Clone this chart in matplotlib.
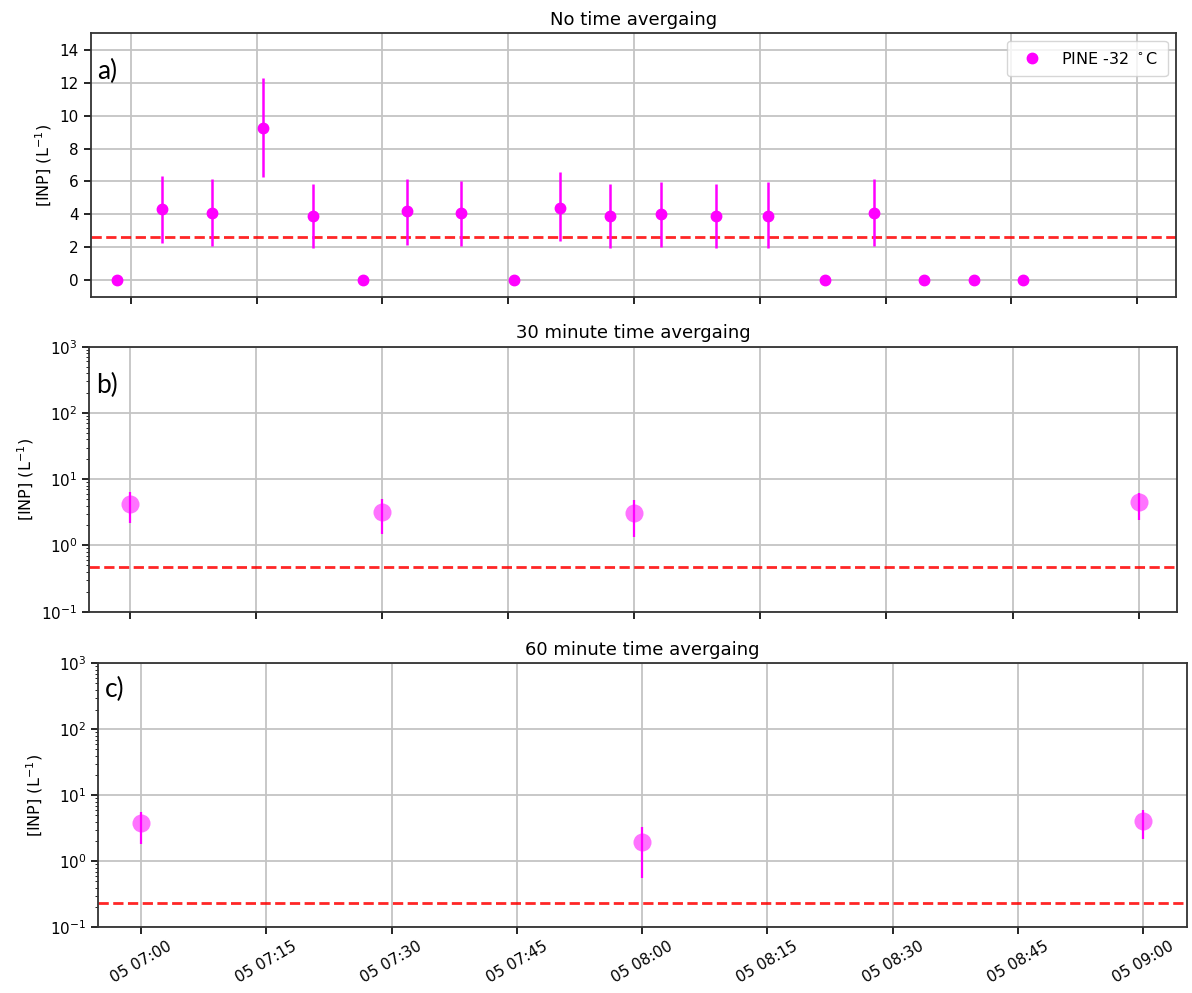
import matplotlib
matplotlib.use("Agg")
import matplotlib.pyplot as plt
import matplotlib.dates as mdates
import pandas as pd

# PINE -32 C, 6 minute runs
t_raw = ["06:58:20", "07:03:43", "07:09:40", "07:15:45", "07:21:44", "07:27:42",
         "07:32:53", "07:39:19", "07:45:43", "07:51:10", "07:57:08", "08:03:10",
         "08:09:44", "08:15:56", "08:22:46", "08:28:34", "08:34:32", "08:40:34",
         "08:46:22"]
inp_raw = [0, 4.3, 4.1, 9.26, 3.9, 0, 4.2, 4.1, 0, 4.4, 3.9, 4.02, 3.92, 3.92,
           0, 4.1, 0, 0, 0]
lo_raw = [0, 2.26, 2.06, 6.26, 1.98, 0, 2.16, 2.1, 0, 2.36, 1.96, 2.0, 1.96,
          1.96, 0, 2.1, 0, 0, 0]
hi_raw = [0, 6.34, 6.14, 12.26, 5.86, 0, 6.16, 6.04, 0, 6.56, 5.84, 5.96, 5.84,
          5.96, 0, 6.16, 0, 0, 0]
lod_raw = 2.64

# 30 minute means
t_30 = ["07:00", "07:30", "08:00", "09:00"]
inp_30 = [4.26, 3.2, 3.09, 4.6]
lo_30 = [2.2, 1.5, 1.36, 2.4]
hi_30 = [6.3, 5.1, 4.8, 6.2]
lod_30 = 0.468

# 60 minute means
t_60 = ["07:00", "08:00", "09:00"]
inp_60 = [3.86, 1.99, 4.1]
lo_60 = [1.85, 0.56, 2.2]
hi_60 = [5.5, 3.27, 5.9]
lod_60 = 0.237

day = "2021-10-05 "


def to_time(ts):
    return pd.to_datetime([day + s for s in ts])


def yerr(v, lo, hi):
    return [[a - b for a, b in zip(v, lo)], [c - a for a, c in zip(v, hi)]]


plt.rcParams["font.size"] = 11

fig = plt.figure(figsize=(11.92, 9.93), dpi=100)
ax1 = fig.add_axes([0.0761, 0.7012, 0.9102, 0.2653])
ax2 = fig.add_axes([0.0749, 0.3840, 0.9128, 0.2669])
ax3 = fig.add_axes([0.0825, 0.0662, 0.9131, 0.2657])

ax1.errorbar(to_time(t_raw), inp_raw, yerr=yerr(inp_raw, lo_raw, hi_raw),
             fmt="none", ecolor="magenta", elinewidth=1.8, capsize=0, zorder=3)
ax1.plot(to_time(t_raw), inp_raw, "o", color="magenta", ms=7.5,
         label="PINE -32 $^\\circ$C", zorder=4)
ax1.axhline(lod_raw, color="red", ls="--", lw=2, alpha=0.85)
ax1.set_ylim(-1, 15)
ax1.set_yticks(range(0, 15, 2))
ax1.set_title("No time avergaing", fontsize=13)
ax1.legend(loc="upper right", fontsize=11.5, borderpad=0.6)
ax1.tick_params(labelbottom=False)
ax1.set_xlim(pd.Timestamp(day + "06:55:12"), pd.Timestamp(day + "09:04:36"))

for ax, t, v, lo, hi, lod, title in [
        (ax2, t_30, inp_30, lo_30, hi_30, lod_30, "30 minute time avergaing"),
        (ax3, t_60, inp_60, lo_60, hi_60, lod_60, "60 minute time avergaing")]:
    ax.errorbar(to_time(t), v, yerr=yerr(v, lo, hi), fmt="none",
                ecolor="magenta", elinewidth=1.6, capsize=0, zorder=3)
    ax.plot(to_time(t), v, "o", color="magenta", alpha=0.55, ms=13, mew=0,
            zorder=4)
    ax.axhline(lod, color="red", ls="--", lw=2, alpha=0.85)
    ax.set_yscale("log")
    ax.set_ylim(0.1, 1000)
    ax.set_title(title, fontsize=13)

ax2.set_xlim(pd.Timestamp(day + "06:55:12"), pd.Timestamp(day + "09:04:36"))
ax2.tick_params(labelbottom=False)
ax3.set_xlim(pd.Timestamp(day + "06:54:54"), pd.Timestamp(day + "09:05:12"))

for ax, letter, ly in zip([ax1, ax2, ax3], ["a)", "b)", "c)"],
                          [0.854, 0.855, 0.9]):
    ax.xaxis.set_major_locator(mdates.MinuteLocator(byminute=[0, 15, 30, 45]))
    ax.xaxis.set_major_formatter(mdates.DateFormatter("%d %H:%M"))
    ax.grid(True, color="#c4c4c4", lw=1.3)
    ax.set_axisbelow(True)
    ax.set_ylabel("[INP] (L$^{-1}$)", fontsize=11.5)
    for s in ax.spines.values():
        s.set_linewidth(1.3)
        s.set_color("#333333")
    ax.tick_params(width=1.2, length=5)
    ax.text(0.006, ly, letter, transform=ax.transAxes, fontsize=19,
            family=["Lato", "DejaVu Sans"], va="center", ha="left")

plt.setp(ax3.get_xticklabels(), rotation=30, ha="center")

fig.savefig("out.png", dpi=100)
